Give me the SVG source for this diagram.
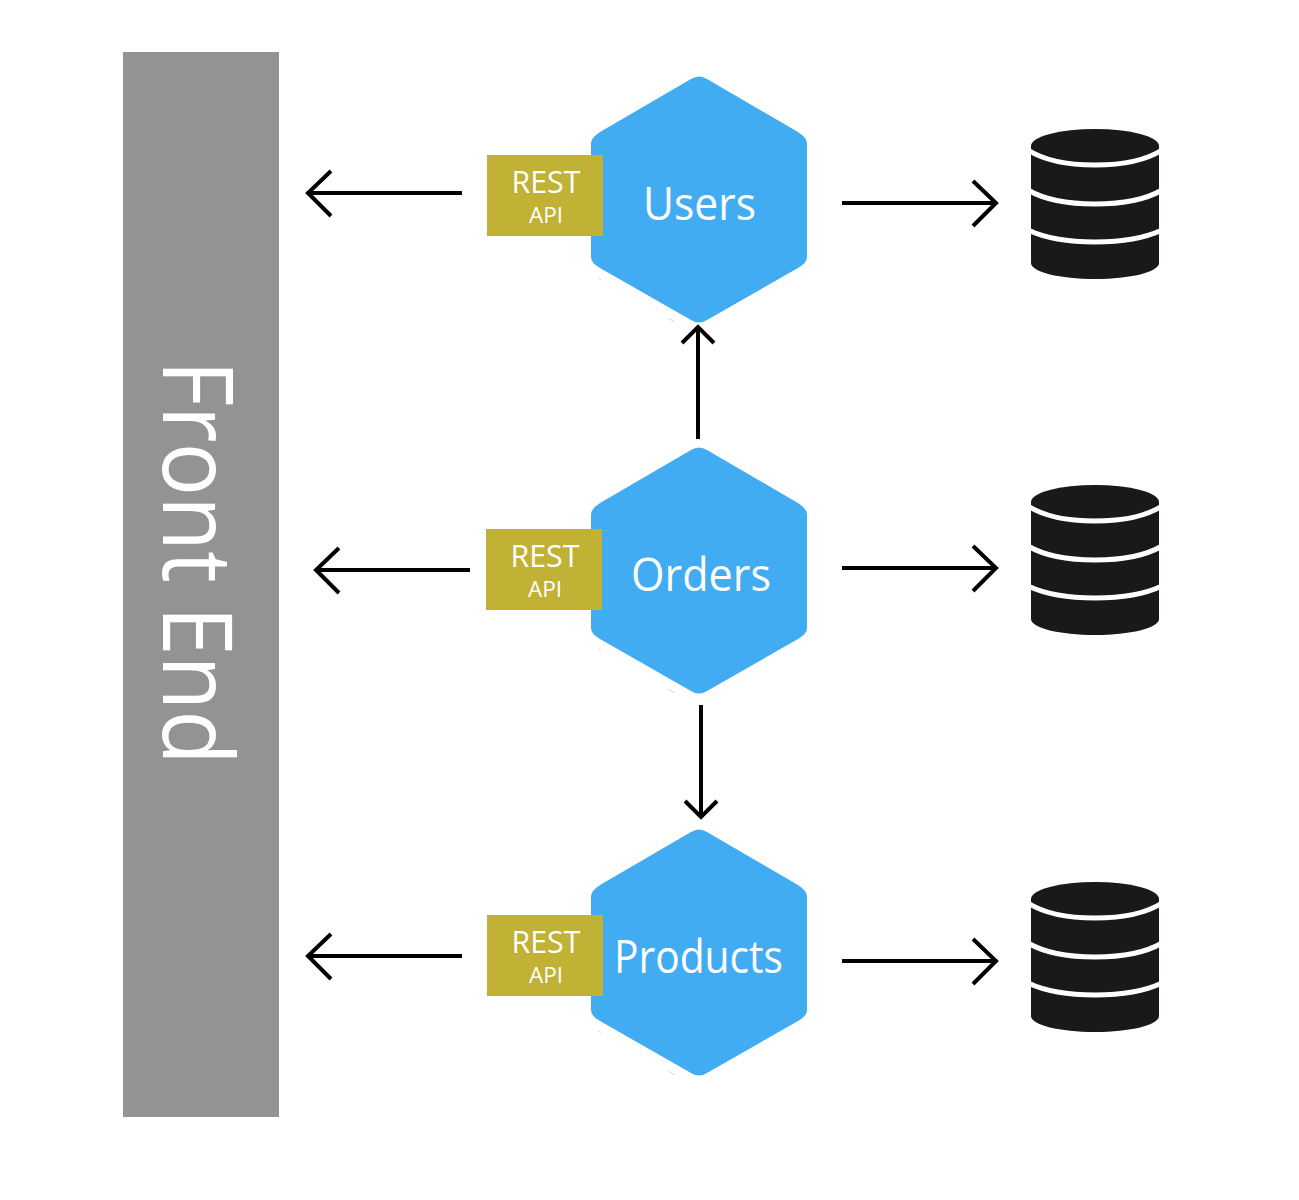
<svg xmlns="http://www.w3.org/2000/svg" width="1299" height="1200" viewBox="0 0 1299 1200">
<style>
text{font-family:"Open Sans","Noto Sans","Liberation Sans",sans-serif;fill:#fff;text-anchor:middle}
.hex{fill:#42acf2}
.api{fill:#c1b134}
.rest{font-size:31.5px}
.sub{font-size:22.5px}
.name{font-size:46px}
.conn{fill:none;stroke:#000;stroke-width:4}
.db{fill:#1a1818}
.gap{fill:none;stroke:#fff;stroke-width:5}
.fleck{fill:none;stroke:#d8d8d8;stroke-width:1}
</style>
<defs>
<g id="hexagon">
<path class="hex" d="M-8,-121 Q0,-126 8,-121 L99,-68 Q108,-62 108,-57 L108,57 Q108,63 99,68 L8,120 Q0,125 -8,120 L-99,68 Q-108,63 -108,57 L-108,-57 Q-108,-62 -99,-68 Z"/>
<path class="fleck" d="M-101,78L-98,79.500M-31,118L-24,122"/>
</g>
<g id="database">
<path class="db" d="M-64,-58 A64,17 0 0 1 64,-58 L64,59 C64,68 35,75 0,75 C-35,75 -64,68 -64,59 Z"/>
<path class="gap" d="M-67,-54 C-50,-43 -25,-39 0,-39 C25,-39 50,-43 67,-54"/>
<path class="gap" d="M-67,-14 C-50,-4 -25,0 0,0 C25,0 50,-4 67,-14"/>
<path class="gap" d="M-67,26 C-50,34 -25,38 0,38 C25,38 50,34 67,26"/>
</g>
</defs>
<g id="front-end">
<rect x="123" y="52" width="156" height="1065" fill="#939393"/>
<text transform="translate(163,360) rotate(90)" style="text-anchor:start" font-size="97" textLength="405" lengthAdjust="spacingAndGlyphs">Front End</text>
</g>
<g id="users">
<use href="#hexagon" x="699" y="200"/>
<text class="name" x="699.500" y="220" textLength="113" lengthAdjust="spacingAndGlyphs">Users</text>
<rect class="api" x="487" y="155" width="116" height="81"/>
<text class="rest" x="546" y="193" textLength="69" lengthAdjust="spacingAndGlyphs">REST</text>
<text class="sub" x="546" y="223">API</text>
</g>
<g id="orders">
<use href="#hexagon" x="699" y="571"/>
<text class="name" x="701" y="591" textLength="140" lengthAdjust="spacingAndGlyphs">Orders</text>
<rect class="api" x="486" y="529" width="116" height="81"/>
<text class="rest" x="545" y="567" textLength="69" lengthAdjust="spacingAndGlyphs">REST</text>
<text class="sub" x="545" y="597">API</text>
</g>
<g id="products">
<use href="#hexagon" x="699" y="953"/>
<text class="name" x="698.500" y="973" textLength="169" lengthAdjust="spacingAndGlyphs">Products</text>
<rect class="api" x="487" y="915" width="116" height="81"/>
<text class="rest" x="546" y="953" textLength="69" lengthAdjust="spacingAndGlyphs">REST</text>
<text class="sub" x="546" y="983">API</text>
</g>
<g id="db-users"><use href="#database" x="1095" y="204"/></g>
<g id="db-orders"><use href="#database" x="1095" y="560"/></g>
<g id="db-products"><use href="#database" x="1095" y="957"/></g>
<g id="connectors">
<path class="conn" d="M462,193H308M331,171L308,193L331,216"/>
<path class="conn" d="M470,570H316M339,548L316,570L339,593"/>
<path class="conn" d="M462,956H308M331,934L308,956L331,979"/>
<path class="conn" d="M842,203H996M973,181L996,203L973,226"/>
<path class="conn" d="M842,568H996M973,546L996,568L973,591"/>
<path class="conn" d="M842,961H996M973,939L996,961L973,984"/>
<path class="conn" d="M698,439V327M682,343L698,327L714,343"/>
<path class="conn" d="M701,705V817M685,801L701,817L717,801"/>
</g>
</svg>
